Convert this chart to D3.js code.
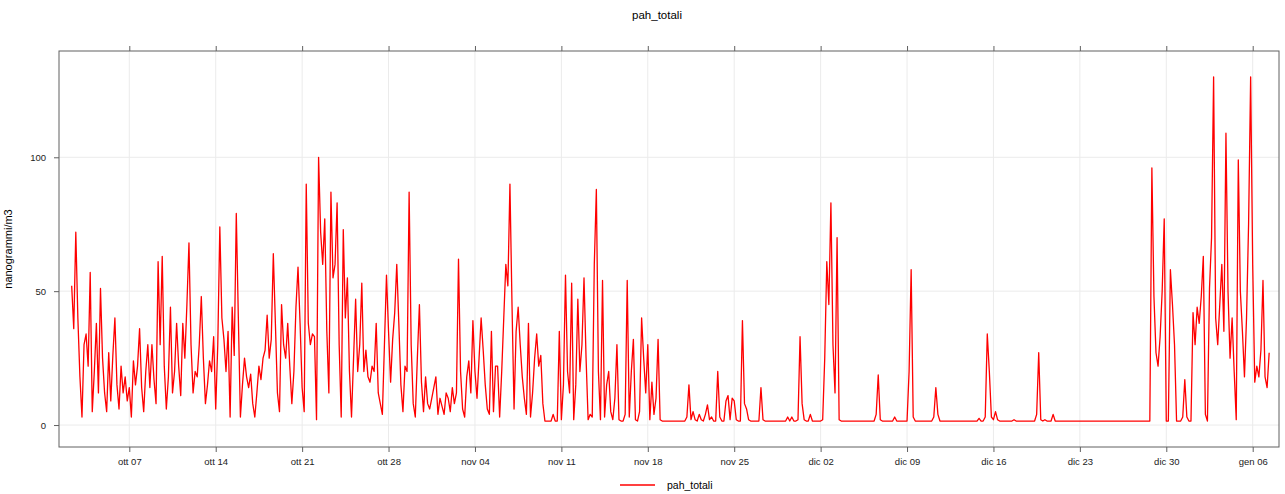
<!DOCTYPE html>
<html>
<head>
<meta charset="utf-8">
<script src="https://cdn.jsdelivr.net/npm/d3@7"></script>
<style>
  body { margin: 0; background: #fff; }
  text { font-family: "Liberation Sans", Arial, sans-serif; }
</style>
</head>
<body>
<svg id="chart" width="1285" height="494"></svg>
<script>
// series: pah_totali, one value every 4 hours from 2 Oct 08:00
const seriesName = "pah_totali";
const startTime = "2019-10-02T08:00:00Z";
const stepHours = 4;

const week01 = [52,36,72,40,18,3,30,34,22,57, 5,20,38,12,51,25,12,5,27,9, 26,40,15,6,22,12,18,9,14,3, 24,15,22,36,14,5,20,30,14,30, 17,8];
const week02 = [61,30,63,22,6,18,44,12,20,38, 22,11,38,25,45,68,30,12,20,18, 30,48,25,8,15,24,20,33,6,30, 74,40,32,20,35,3,44,26,79,40, 3,15];
const week03 = [25,18,14,19,8,3,12,22,17,25, 28,41,25,32,64,38,12,5,45,30, 25,38,22,8,20,44,59,38,14,5, 90,38,30,34,33,2,100,72,60,77, 35,12];
const week04 = [87,55,60,83,30,3,73,40,55,20, 3,25,47,20,30,53,20,28,18,16, 22,20,38,12,8,4,30,56,35,16, 32,42,60,38,15,5,22,20,87,30, 8,3];
const week05 = [25,45,16,5,18,8,6,10,14,18, 4,10,7,4,12,10,5,14,8,12, 62,20,6,3,18,24,12,39,20,10, 25,40,28,15,6,4,35,5,22,22, 3,20];
const week06 = [40,60,52,90,45,6,35,44,30,18, 10,4,38,3,12,25,34,22,26,8, 1.5,1.5,1.5,1.5,4,1.5,1.5,35,2,15, 56,20,12,53,2,15,47,20,30,55, 25,2];
const week07 = [4,3,60,88,20,2,54,3,15,20, 5,2,10,30,2,1.5,1.5,4,54,3, 20,32,2,1.5,5,40,25,12,30,2, 16,4,10,32,2,1.5,1.5,1.5,1.5,1.5, 1.5,1.5];
const week08 = [1.5,1.5,1.5,1.5,1.5,3,15,2,5,2, 1.5,4,2,1.5,4,7.5,2,3,1.5,1.5, 20,3,1.5,1.5,9,11,2,10,9,2, 1.5,1.5,39,8,6,2,1.5,1.5,1.5,1.5, 1.5,14];
const week09 = [2,1.5,1.5,1.5,1.5,1.5,1.5,1.5,1.5,1.5, 1.5,1.5,3,1.5,3,1.5,1.5,2,33,8, 2,1.5,1.5,4,1.5,1.5,1.5,1.5,1.5,2, 25,61,45,83,30,12,70,2,1.5,1.5, 1.5,1.5];
const week10 = [1.5,1.5,1.5,1.5,1.5,1.5,1.5,1.5,1.5,1.5, 1.5,1.5,1.5,4,18.7,2,1.5,1.5,1.5,1.5, 1.5,1.5,3,1.5,1.5,1.5,1.5,1.5,1.5,20, 58,3,1.5,1.5,1.5,1.5,1.5,1.5,1.5,1.5, 1.5,3];
const week11 = [14,4,1.5,1.5,1.5,1.5,1.5,1.5,1.5,1.5, 1.5,1.5,1.5,1.5,1.5,1.5,1.5,1.5,1.5,1.5, 1.5,2.5,1.5,1.5,3,34,20,3,2,5, 2,1.5,1.5,1.5,1.5,1.5,1.5,1.5,2,1.5, 1.5,1.5];
const week12 = [1.5,1.5,1.5,1.5,1.5,1.5,1.5,4,27,2, 1.5,2,1.5,1.5,1.5,4,1.5,1.5,1.5,1.5, 1.5,1.5,1.5,1.5,1.5,1.5,1.5,1.5,1.5,1.5, 1.5,1.5,1.5,1.5,1.5,1.5,1.5,1.5,1.5,1.5, 1.5,1.5];
const week13 = [1.5,1.5,1.5,1.5,1.5,1.5,1.5,1.5,1.5,1.5, 1.5,1.5,1.5,1.5,1.5,1.5,1.5,1.5,1.5,1.5, 1.5,96,48,27,22,33,50,77,1.5,1.5, 58,45,30,1.5,1.5,1.5,3,17,3,1.5, 1.5,42];
const week14 = [30,44,38,48,63,4,1.5,51,70,130, 40,30,45,60,35,109,50,25,40,20, 2,99,50,35,18,40,75,130,60,16, 22,18,28,54,18,14,27];

// axis ticks
const tickDays = ["2019-10-07","2019-10-14","2019-10-21","2019-10-28","2019-11-04","2019-11-11","2019-11-18",
                  "2019-11-25","2019-12-02","2019-12-09","2019-12-16","2019-12-23","2019-12-30","2020-01-06"];
const tickLabels = ["ott 07","ott 14","ott 21","ott 28","nov 04","nov 11","nov 18",
                    "nov 25","dic 02","dic 09","dic 16","dic 23","dic 30","gen 06"];
const yTicks = [0, 50, 100];

(function() {
  const width = 1285, height = 494;
  const margin = {top: 51, right: 6, bottom: 47, left: 59};

  const values = [].concat(week01, week02, week03, week04, week05, week06, week07,
                           week08, week09, week10, week11, week12, week13, week14);
  const t0 = new Date(startTime);
  const data = values.map((v, i) => ({date: d3.utcHour.offset(t0, i * stepHours), value: v}));
  const tickDates = tickDays.map(d => new Date(d + "T00:00:00Z"));

  const x = d3.scaleUtc()
    .domain([new Date("2019-10-01T07:20:00Z"), new Date("2020-01-08T03:08:00Z")])
    .range([margin.left, width - margin.right]);
  const y = d3.scaleLinear()
    .domain([-8.2, 139.7])
    .range([height - margin.bottom, margin.top]);

  const svg = d3.select('#chart');

  // title + y label
  svg.append('text')
    .attr('x', 657).attr('y', 19)
    .attr('text-anchor', 'middle')
    .style('font-size', '11.5px')
    .text(seriesName);

  svg.append('text')
    .attr('transform', `translate(12, ${(margin.top + height - margin.bottom) / 2}) rotate(-90)`)
    .attr('text-anchor', 'middle')
    .style('font-size', '11px')
    .text('nanogrammi/m3');

  // grid
  const grid = svg.append('g').attr('stroke', '#ebebeb').attr('stroke-width', 1);
  grid.selectAll('line.v').data(tickDates).enter().append('line')
    .attr('x1', d => x(d)).attr('x2', d => x(d))
    .attr('y1', margin.top).attr('y2', height - margin.bottom);
  grid.selectAll('line.h').data(yTicks).enter().append('line')
    .attr('x1', margin.left).attr('x2', width - margin.right)
    .attr('y1', d => y(d)).attr('y2', d => y(d));

  // the series
  const line = d3.line()
    .x(d => x(d.date))
    .y(d => y(d.value));

  svg.append('path')
    .datum(data)
    .attr('fill', 'none')
    .attr('stroke', '#ff0000')
    .attr('stroke-width', 1.3)
    .attr('stroke-linejoin', 'round')
    .attr('d', line);

  // frame
  svg.append('rect')
    .attr('x', margin.left).attr('y', margin.top)
    .attr('width', width - margin.left - margin.right)
    .attr('height', height - margin.top - margin.bottom)
    .attr('fill', 'none')
    .attr('stroke', '#606060');

  // axes
  const xAxis = svg.append('g')
    .attr('transform', `translate(0,${height - margin.bottom})`)
    .call(d3.axisBottom(x).tickValues(tickDates).tickFormat((d, i) => tickLabels[i]).tickSize(5).tickPadding(6));
  const xTop = svg.append('g')
    .attr('transform', `translate(0,${margin.top})`)
    .call(d3.axisTop(x).tickValues(tickDates).tickFormat('').tickSize(5));
  const yAxis = svg.append('g')
    .attr('transform', `translate(${margin.left},0)`)
    .call(d3.axisLeft(y).tickValues(yTicks).tickSize(5).tickPadding(8));

  [xAxis, xTop, yAxis].forEach(g => {
    g.select('.domain').remove();
    g.selectAll('.tick line').attr('stroke', '#606060');
    g.selectAll('.tick text')
      .attr('fill', '#222')
      .style('font-size', '9.5px')
      .style('font-family', '"Liberation Sans", Arial, sans-serif');
  });

  // legend
  const legend = svg.append('g');
  legend.append('line')
    .attr('x1', 620).attr('x2', 655)
    .attr('y1', 485).attr('y2', 485)
    .attr('stroke', '#ff0000').attr('stroke-width', 1.3);
  legend.append('text')
    .attr('x', 667).attr('y', 489)
    .style('font-size', '10.5px')
    .text(seriesName);
})();
</script>
</body>
</html>
